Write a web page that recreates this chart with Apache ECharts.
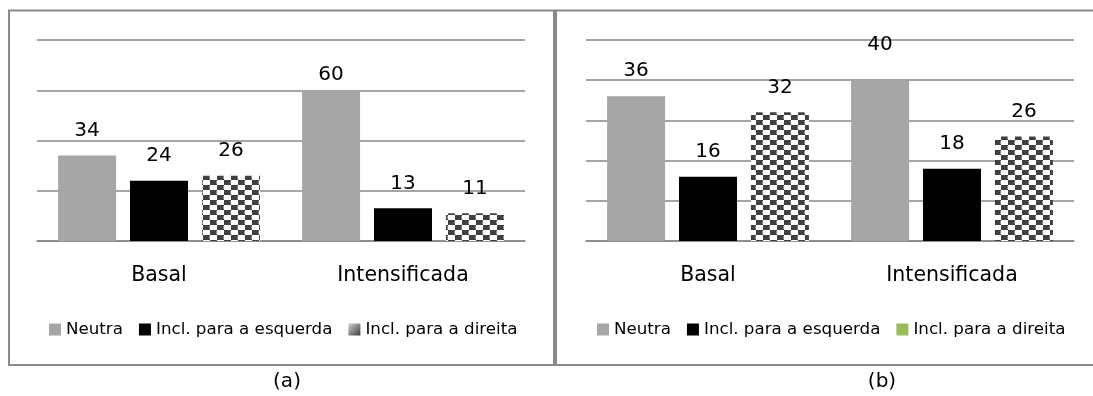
<!DOCTYPE html>
<html>
<head>
<meta charset="utf-8">
<script src="https://cdn.jsdelivr.net/npm/echarts@6/dist/echarts.min.js"></script>
<style>
  html, body { margin: 0; padding: 0; background: #fff; overflow: hidden; }
  #chart { width: 1093px; height: 396px; }
</style>
</head>
<body>
<div id="chart"></div>
<script>
// Categories and series shared by both panels
const categories = ['Basal', 'Intensificada'];
const seriesNames = ['Neutra', 'Incl. para a esquerda', 'Incl. para a direita'];

// Panel (a)
const neutraA = [34, 60];
const esquerdaA = [24, 13];
const direitaA = [26, 11];

// Panel (b)
const neutraB = [36, 40];
const esquerdaB = [16, 18];
const direitaB = [32, 26];

// Value axes (no labels drawn, only grid lines)
const maxA = 80, stepA = 20;
const maxB = 50, stepB = 10;

const captions = ['(a)', '(b)'];

const FONT = 'DejaVu Sans';
const GRID_GRAY = '#878787';
const BORDER_GRAY = '#8a8a8a';

// Vertical label nudges (px) for labels that sit off the default spot
const neutraNudgeA = [0, 10];
const neutraNudgeB = [0, -10];

// Checkerboard fill for the third series
function checkerPattern() {
  const c = document.createElement('canvas');
  c.width = 14; c.height = 10;
  const g = c.getContext('2d');
  g.fillStyle = '#ffffff';
  g.fillRect(0, 0, 14, 10);
  g.fillStyle = '#404040';
  g.fillRect(0, 0, 7, 5);
  g.fillRect(7, 5, 7, 5);
  g.fillStyle = '#8a8a8a';
  g.fillRect(6, 1, 1, 3);
  g.fillRect(13, 6, 1, 3);
  return c;
}
const pattern = { image: checkerPattern(), repeat: 'repeat' };

const colors = ['#a6a6a6', '#000000', pattern];

function bars(name, values, idx, color, nudges) {
  const data = values.map(function (v, i) {
    const dy = nudges ? nudges[i] : 0;
    return dy ? { value: v, label: { offset: [0, dy] } } : v;
  });
  return {
    type: 'bar',
    name: name,
    xAxisIndex: idx,
    yAxisIndex: idx,
    data: data,
    barWidth: 58,
    barGap: '24%',
    itemStyle: { color: color },
    label: {
      show: true,
      position: 'top',
      distance: 15,
      color: '#000',
      fontFamily: FONT,
      fontSize: 20
    },
    emphasis: { disabled: true }
  };
}

function xAxis(idx) {
  return {
    type: 'category',
    gridIndex: idx,
    data: categories,
    axisLine: { show: true, lineStyle: { color: GRID_GRAY, width: 1.5 } },
    axisTick: { show: false },
    axisLabel: { margin: 24, color: '#000', fontFamily: FONT, fontSize: 20.5 }
  };
}

function yAxis(idx, max, step) {
  return {
    type: 'value',
    gridIndex: idx,
    min: 0,
    max: max,
    interval: step,
    axisLine: { show: false },
    axisTick: { show: false },
    axisLabel: { show: false },
    splitLine: { show: true, lineStyle: { color: GRID_GRAY, width: 1.5 } }
  };
}

function legend(left, thirdColor) {
  return {
    left: left,
    top: 321,
    padding: 0,
    itemWidth: 12,
    itemHeight: 12,
    itemGap: 16,
    icon: 'rect',
    selectedMode: false,
    textStyle: { color: '#000', fontFamily: FONT, fontSize: 16.7 },
    data: [
      { name: seriesNames[0] },
      { name: seriesNames[1] },
      { name: seriesNames[2], itemStyle: { color: thirdColor } }
    ]
  };
}

const chart = echarts.init(document.getElementById('chart'), null, { renderer: 'canvas' });

chart.setOption({
  animation: false,
  grid: [
    { left: 37, right: 568, top: 40, bottom: 155 },
    { left: 586, right: 19, top: 40, bottom: 155 }
  ],
  xAxis: [xAxis(0), xAxis(1)],
  yAxis: [yAxis(0, maxA, stepA), yAxis(1, maxB, stepB)],
  legend: [
    legend(49, {
      type: 'linear', x: 0, y: 0, x2: 1, y2: 1,
      colorStops: [{ offset: 0, color: '#d2d2d2' }, { offset: 1, color: '#3a3a3a' }]
    }),
    legend(597, '#9bbb59')
  ],
  series: [
    bars(seriesNames[0], neutraA, 0, colors[0], neutraNudgeA),
    bars(seriesNames[1], esquerdaA, 0, colors[1]),
    bars(seriesNames[2], direitaA, 0, colors[2]),
    bars(seriesNames[0], neutraB, 1, colors[0], neutraNudgeB),
    bars(seriesNames[1], esquerdaB, 1, colors[1]),
    bars(seriesNames[2], direitaB, 1, colors[2])
  ],
  graphic: [
    {
      type: 'rect', silent: true, z: 100,
      shape: { x: 9, y: 10.5, width: 545, height: 354.5 },
      style: { fill: null, stroke: BORDER_GRAY, lineWidth: 2 }
    },
    {
      type: 'rect', silent: true, z: 100,
      shape: { x: 556, y: 10.5, width: 560, height: 354.5 },
      style: { fill: null, stroke: BORDER_GRAY, lineWidth: 2 }
    },
    {
      type: 'text', silent: true,
      x: 287, y: 382,
      style: { text: captions[0], fill: '#000', font: '20px "DejaVu Sans"', align: 'center', verticalAlign: 'middle' }
    },
    {
      type: 'text', silent: true,
      x: 882, y: 382,
      style: { text: captions[1], fill: '#000', font: '20px "DejaVu Sans"', align: 'center', verticalAlign: 'middle' }
    }
  ]
});
</script>
</body>
</html>
